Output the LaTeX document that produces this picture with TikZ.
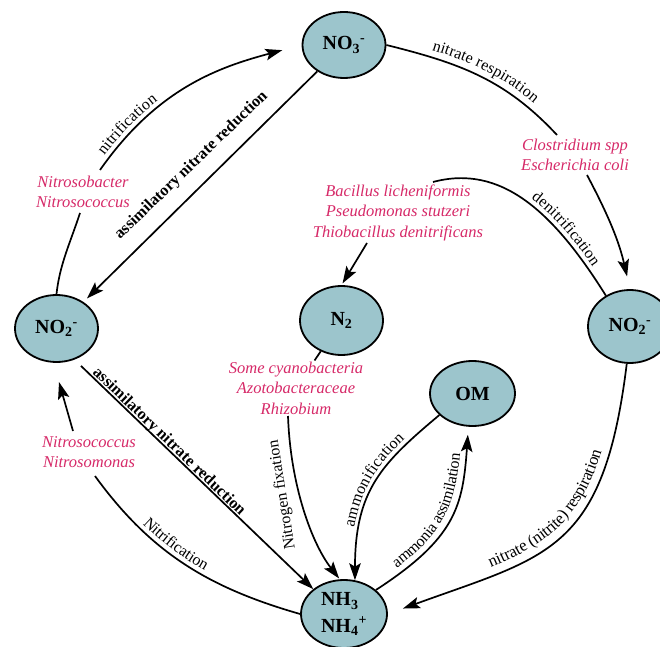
\documentclass[tikz,border=0pt]{standalone}
\usepackage{fontspec}
\setmainfont{Liberation Serif}
\usetikzlibrary{arrows.meta,shapes.geometric,decorations.text}
\definecolor{nodefill}{RGB}{156,197,204}
\definecolor{bactred}{RGB}{214,41,104}
\newcommand\labfont{\fontsize{16}{19}\selectfont}
\newcommand\biglabfont{\fontsize{16.8}{19}\selectfont}
\begin{document}
\begin{tikzpicture}[x=1pt,y=1pt,
  chem/.style={ellipse, draw, line width=1.8pt, fill=nodefill, inner sep=0pt,
    font=\fontsize{20}{24}\selectfont\bfseries, align=center},
  bact/.style={text=bactred, font=\fontsize{16.5}{20.5}\selectfont\itshape, align=center, inner sep=1pt},
  flow/.style={line width=1.7pt},
  arr/.style={flow, -{Stealth[length=17pt,width=11.5pt,inset=3.5pt]}},
  lbl/.style={font=\labfont, inner sep=0pt, anchor=base west},
  lblb/.style={lbl, font=\fontsize{16.2}{19}\selectfont\bfseries},
  curvelab/.style n args={3}{decorate, decoration={text along path,
    text={|\labfont|#3}, raise=#2, text align={left indent=#1}}},
]
\useasboundingbox (0,0) rectangle (660,646);
\clip (0,0) rectangle (660,646);

% nodes
\node[chem, minimum width=83pt, minimum height=66pt] (NO3) at (344,601) {NO\textsubscript{3}\textsuperscript{-}};
\node[chem, minimum width=83pt, minimum height=67pt] (NO2L) at (56.5,317.5) {NO\textsubscript{2}\textsuperscript{-}};
\node[chem, minimum width=83pt, minimum height=69pt] (N2) at (341.5,325.5) {N\textsubscript{2}};
\node[chem, minimum width=84pt, minimum height=73pt] (NO2R) at (630,319.5) {NO\textsubscript{2}\textsuperscript{-}};
\node[chem, minimum width=85pt, minimum height=65pt] (OM) at (472.5,252.5) {OM};
\node[chem, minimum width=86pt, minimum height=68pt, align=left, font=\fontsize{20}{26}\selectfont\bfseries] (NH) at (344,32) {NH\textsubscript{3}\\NH\textsubscript{4}\textsuperscript{+}};

% bacteria labels
\node[bact] (bactA) at (83,454) {Nitrosobacter\\Nitrosococcus};
\node[bact] (bactB) at (575,491) {Clostridium spp\\Escherichia coli};
\node[bact] (bactC) at (398,433.5) {Bacillus licheniformis\\Pseudomonas stutzeri\\Thiobacillus denitrificans};
\node[bact] (bactD) at (296,258) {Some cyanobacteria\\Azotobacteraceae\\Rhizobium};
\node[bact] (bactE) at (89,194) {Nitrosococcus\\Nitrosomonas};

% free ends beside the bacteria labels
\coordinate (c1a) at (80,433);
\coordinate (c1b) at (100,476);
\coordinate (c3a) at (557,511);
\coordinate (c3b) at (587,471);
\coordinate (c4a) at (433,464);
\coordinate (c4b) at (367,403);
\coordinate (c5) at (288,230);
\coordinate (c9a) at (95,170);
\coordinate (c9b) at (73,215);

% connectors
\draw[flow] (NO2L.north) .. controls +(84:30) and +(-108:30) .. (c1a);
\draw[arr, shorten >=20pt] (c1b) .. controls +(55:100) and +(195:85) .. (NO3.west);
\draw[arr, shorten >=5pt] (NO3) -- (NO2L);
\draw[flow] (NO3.east) .. controls +(-14:76) and +(133:76) .. (c3a);
\draw[arr, shorten >=13pt] (c3b) to[out=-62,in=103] (NO2R.north);
\draw[flow] (NO2R.128) .. controls +(122:100) and +(15:70) .. (c4a);
\draw[arr, shorten >=2pt] (c4b) -- (N2.north);
\draw[flow] (N2) -- (bactD);
\draw[arr, shorten >=1pt] (c5) .. controls +(-88:70) and +(128:45) .. (NH.97);
\draw[arr] (OM.213) .. controls +(220:75) and +(90:90) .. (NH.72);
\draw[arr, shorten >=8pt] (NH.37) .. controls +(33:95) and +(-94:80) .. (OM.-97);
\draw[arr, shorten >=16pt] (NO2R.-95) .. controls +(-97:190) and +(20:170) .. (NH.east);
\draw[flow] (NH.west) .. controls +(164:95) and +(-54:95) .. (c9a);
\draw[arr, shorten >=20pt] (c9b) -- (NO2L.-95);
\draw[arr, shorten <=9pt] (NO2L.-60) -- (NH.141);

% labels that follow curved connectors
\path[curvelab={14pt}{5pt}{nitrification}] (c1b) .. controls +(55:100) and +(195:85) .. (NO3.west);
\path[curvelab={45pt}{7pt}{nitrate respiration}] (NO3.east) .. controls +(-14:76) and +(133:76) .. (c3a);
\path[curvelab={101pt}{5pt}{denitrification}] (c4a) .. controls +(15:70) and +(122:100) .. (NO2R.128);
\path[curvelab={52pt}{5pt}{ammonification}] (NH.72) .. controls +(90:90) and +(220:75) .. (OM.213);
\path[curvelab={30pt}{6pt}{ammonia assimilation}] (NH.37) .. controls +(33:95) and +(-94:80) .. (OM.-97);
\path[decorate, decoration={text along path, text={|\biglabfont|nitrate (nitrite) respiration},
  raise=8pt, text align={left indent=113pt}}] (NH.east) .. controls +(20:170) and +(-97:190) .. (NO2R.-95);
\path[curvelab={68pt}{5pt}{Nitrification}] (c9a) .. controls +(-54:95) and +(164:95) .. (NH.west);

% labels on straight connectors
\node[lblb, rotate=44] (tassimA) at (120,406) {assimilatory nitrate reduction};
\node[lbl, rotate=99] (tfix) at (295,97) {Nitrogen fixation};
\node[lblb, rotate=-44] (tassimB) at (92,273) {assimilatory nitrate reduction};
\end{tikzpicture}
\end{document}
